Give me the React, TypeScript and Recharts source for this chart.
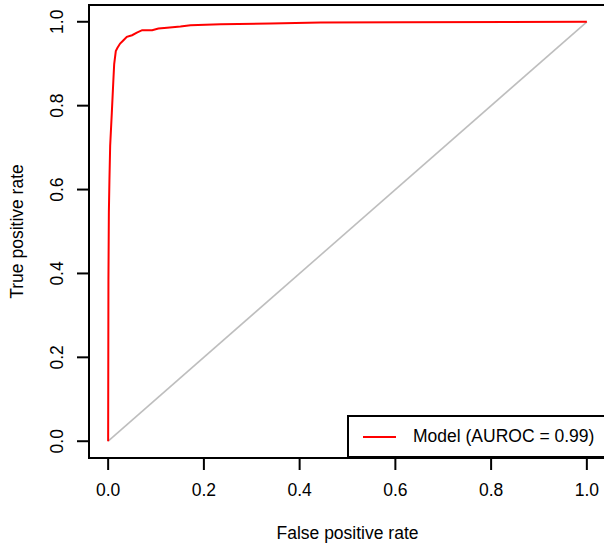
import React from 'react';
import { LineChart, Line, XAxis, YAxis, ReferenceArea } from 'recharts';

// ROC curve points
const fprValues = [0, 0.0006, 0.0015, 0.0027, 0.0042, 0.0077, 0.011, 0.0126, 0.016, 0.0195, 0.025, 0.032, 0.039, 0.05, 0.06, 0.071, 0.092, 0.105, 0.123, 0.151, 0.172, 0.235, 0.339, 0.444, 0.61, 1];
const tprValues = [0, 0.385, 0.545, 0.624, 0.704, 0.784, 0.863, 0.899, 0.93, 0.938, 0.948, 0.956, 0.964, 0.968, 0.974, 0.98, 0.98, 0.984, 0.986, 0.989, 0.992, 0.994, 0.996, 0.998, 0.999, 1];
const chanceFpr = [0, 1];
const chanceTpr = [0, 1];
const axisTicks = [0, 0.2, 0.4, 0.6, 0.8, 1];
const legendLabel = 'Model (AUROC = 0.99)';

const rocData = fprValues.map((f, i) => ({ fpr: f, tpr: tprValues[i] }));
const chanceData = chanceFpr.map((f, i) => ({ fpr: f, tpr: chanceTpr[i] }));

const FONT = '"Liberation Sans", Arial, sans-serif';
const FS = 17.5;

const XTick = ({ x, y, payload }: any) => (
  <text x={x} y={y} textAnchor="middle" dominantBaseline="central" fontFamily={FONT} fontSize={FS} fill="#000">
    {payload.value.toFixed(1)}
  </text>
);

const YTick = ({ x, y, payload }: any) => (
  <text x={x} y={y} transform={`rotate(-90, ${x}, ${y})`} textAnchor="middle" dominantBaseline="central" fontFamily={FONT} fontSize={FS} fill="#000">
    {payload.value.toFixed(1)}
  </text>
);

const XLabel = ({ viewBox }: any) => (
  <text x={viewBox.x + viewBox.width / 2} y={viewBox.y + 75} textAnchor="middle" dominantBaseline="central" fontFamily={FONT} fontSize={FS} fill="#000">
    False positive rate
  </text>
);

const YLabel = ({ viewBox }: any) => {
  const cx = 17;
  const cy = viewBox.y + viewBox.height / 2;
  return (
    <text x={cx} y={cy} transform={`rotate(-90, ${cx}, ${cy})`} textAnchor="middle" dominantBaseline="central" fontFamily={FONT} fontSize={FS} fill="#000">
      True positive rate
    </text>
  );
};

export default function App() {
  return (
    <div style={{ position: 'absolute', left: 0, top: 0, width: 604, height: 550, background: '#fff', overflow: 'hidden' }}>
      <LineChart width={604} height={550} margin={{ top: 5, right: -2, bottom: 0, left: 0 }}>
        <XAxis
          dataKey="fpr"
          type="number"
          domain={[-0.04, 1.04]}
          ticks={axisTicks}
          height={92}
          axisLine={false}
          tickSize={12}
          tickMargin={20}
          tickLine={{ stroke: '#000', strokeWidth: 2 }}
          tick={<XTick />}
          label={<XLabel />}
          allowDataOverflow
        />
        <YAxis
          dataKey="tpr"
          type="number"
          domain={[-0.04, 1.04]}
          ticks={axisTicks}
          width={89}
          axisLine={false}
          tickSize={12}
          tickMargin={20}
          tickLine={{ stroke: '#000', strokeWidth: 2 }}
          tick={<YTick />}
          label={<YLabel />}
          allowDataOverflow
        />
        <ReferenceArea x1={-0.04} x2={1.04} y1={-0.04} y2={1.04} fill="none" stroke="#000" strokeWidth={2} ifOverflow="visible" />
        <Line data={chanceData} dataKey="tpr" type="linear" stroke="#BEBEBE" strokeWidth={1.6} dot={false} isAnimationActive={false} />
        <Line data={rocData} dataKey="tpr" type="linear" stroke="#FF0000" strokeWidth={2} dot={false} isAnimationActive={false} />
      </LineChart>
      <div
        style={{
          position: 'absolute', left: 347, top: 415, width: 262, height: 43, boxSizing: 'border-box',
          border: '2px solid #000', background: '#fff', display: 'flex', alignItems: 'center',
          fontFamily: FONT, fontSize: FS, color: '#000',
        }}
      >
        <svg width={64} height={20} style={{ flex: 'none' }}>
          <line x1={14} y1={10} x2={47} y2={10} stroke="#FF0000" strokeWidth={2} />
        </svg>
        <span style={{ whiteSpace: 'nowrap' }}>{legendLabel}</span>
      </div>
    </div>
  );
}
